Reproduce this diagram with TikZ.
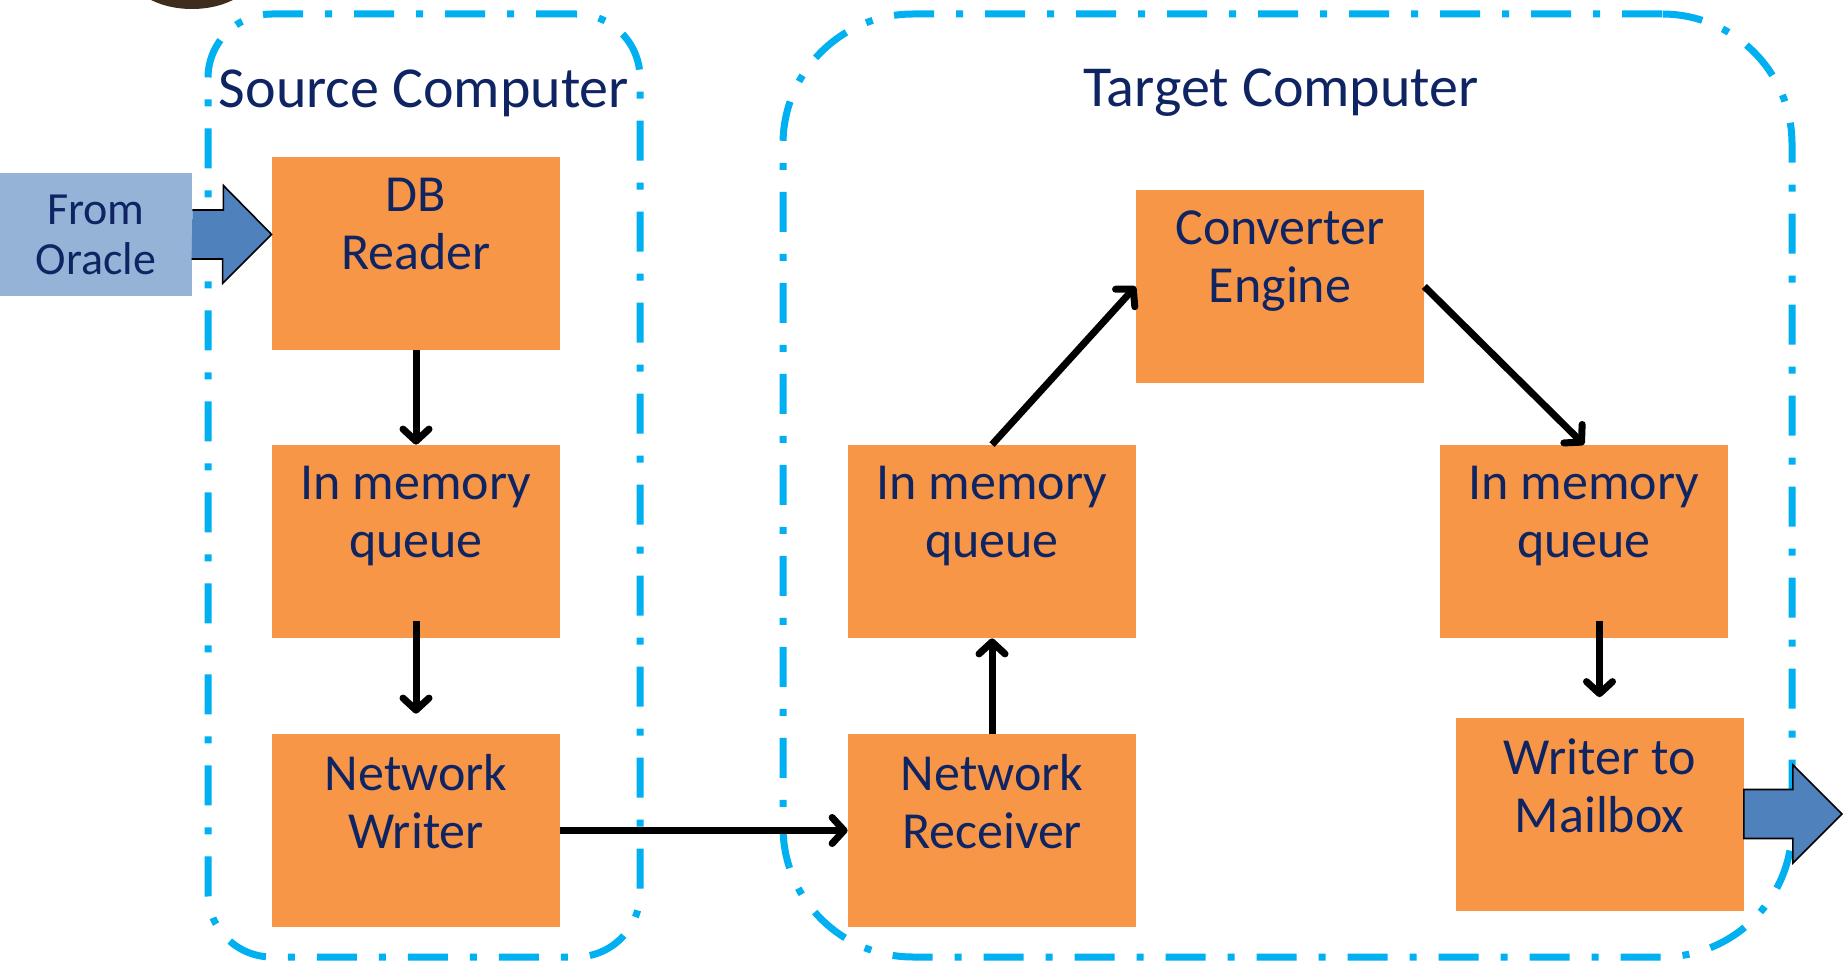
\documentclass[tikz,border=0pt]{standalone}
\usepackage{fontspec}
\setmainfont{Carlito}
\usepackage{xcolor}
\usetikzlibrary{arrows.meta,positioning,calc}
\definecolor{boxorange}{HTML}{F79646}
\definecolor{oracleblue}{HTML}{95B3D7}
\definecolor{arrowblue}{HTML}{4F81BD}
\definecolor{framecyan}{HTML}{00B0F0}
\definecolor{textnavy}{RGB}{15,36,99}
\definecolor{blobbrown}{RGB}{62,44,28}

\begin{document}
\begin{tikzpicture}[x=0.5pt,y=-0.5pt,
  pcframe/.style={rectangle, draw=framecyan, line width=3.5pt, inner sep=0pt,
    dash pattern=on 20pt off 11pt on 3.5pt off 11pt},
  procbox/.style={rectangle, fill=boxorange, minimum width=144pt, minimum height=96.5pt, inner sep=0pt},
  boxtext/.style={text=textnavy, align=center, inner sep=0pt, font=\fontsize{26}{29}\selectfont},
  pctitle/.style={text=textnavy, inner sep=0pt, anchor=base, font=\fontsize{29}{34}\selectfont},
  flow/.style={-{Straight Barb[length=6pt,width=13pt,round]}, line width=3.5pt},
  fatarrow/.style={fill=arrowblue, draw=black, line width=0.8pt, line join=miter}]
\useasboundingbox (0,0) rectangle (1847,962);
\fill [blobbrown] (192,-30) ellipse [x radius=32pt, y radius=19.5pt];

\node (srcpc) [pcframe, rounded corners=32pt, minimum width=216pt, minimum height=471.5pt] at (424,485.5) {};
\node (tgtpc) [pcframe, rounded corners=65pt, minimum width=504.5pt, minimum height=471.5pt] at (1287.5,485.5) {};
\node (srctitle) [pctitle] at (424,108) {Source Computer};
\node (tgttitle) [pctitle] at (1281,107) {Target Computer};

\node (dbr) [procbox] at (416,253.5) {};
\node (dbrtxt) [boxtext, below=10.5pt of dbr.north] {DB\\Reader};
\node (sq) [procbox] at (416,541.5) {};
\node (sqtxt) [boxtext, below=10.5pt of sq.north] {In memory\\queue};
\node (nw) [procbox] at (416,830.5) {};
\node (nwtxt) [boxtext, below=10pt of nw.north] {Network\\Writer};

\node (nr) [procbox] at (992,830.5) {};
\node (nrtxt) [boxtext, below=10pt of nr.north] {Network\\Receiver};
\node (lq) [procbox] at (992,541.5) {};
\node (lqtxt) [boxtext, below=10.5pt of lq.north] {In memory\\queue};
\node (conv) [procbox] at (1280,286.5) {};
\node (convtxt) [boxtext, below=10.5pt of conv.north] {Converter\\Engine};
\node (rq) [procbox] at (1584,541.5) {};
\node (rqtxt) [boxtext, below=10.5pt of rq.north] {In memory\\queue};
\node (wm) [procbox] at (1599.5,814) {};
\node (wmtxt) [boxtext, below=10.5pt of wm.north] {Writer to\\Mailbox};

\node (oracle) [rectangle, fill=oracleblue, minimum width=96pt, minimum height=61.5pt, text=textnavy,
  align=center, font=\fontsize{23}{25}\selectfont] at (96,234.5) {From\\Oracle};
\draw [fatarrow] ($(oracle.east)+(0,-24.5)$) -- ++(31,0) -- ++(0,-24.5) -- (dbr.west |- oracle.east)
  -- ++(-49,49) -- ++(0,-24.5) -- ++(-31,0);
\draw [fatarrow] ($(wm.east)+(0,-24.5)$) -- ++(49,0) -- ++(0,-24.5) -- ++(49,49) -- ++(-49,49)
  -- ++(0,-24.5) -- ++(-49,0) -- cycle;

\draw [flow] (dbr.south) -- (sq.north);
\draw [flow] ($(sq.south)+(0,-17)$) -- ($(nw.north)+(0,-20)$);
\draw [flow] (nw.east) -- (nr.west);
\draw [flow] (nr.north) -- (lq.south);
\draw [flow] (lq.north) -- (conv.west);
\draw [flow] (conv.east) -- (rq.north);
\draw [flow] ($(rq.south -| wm.north)+(0,-17)$) -- ($(wm.north)+(0,-20)$);
\end{tikzpicture}
\end{document}
